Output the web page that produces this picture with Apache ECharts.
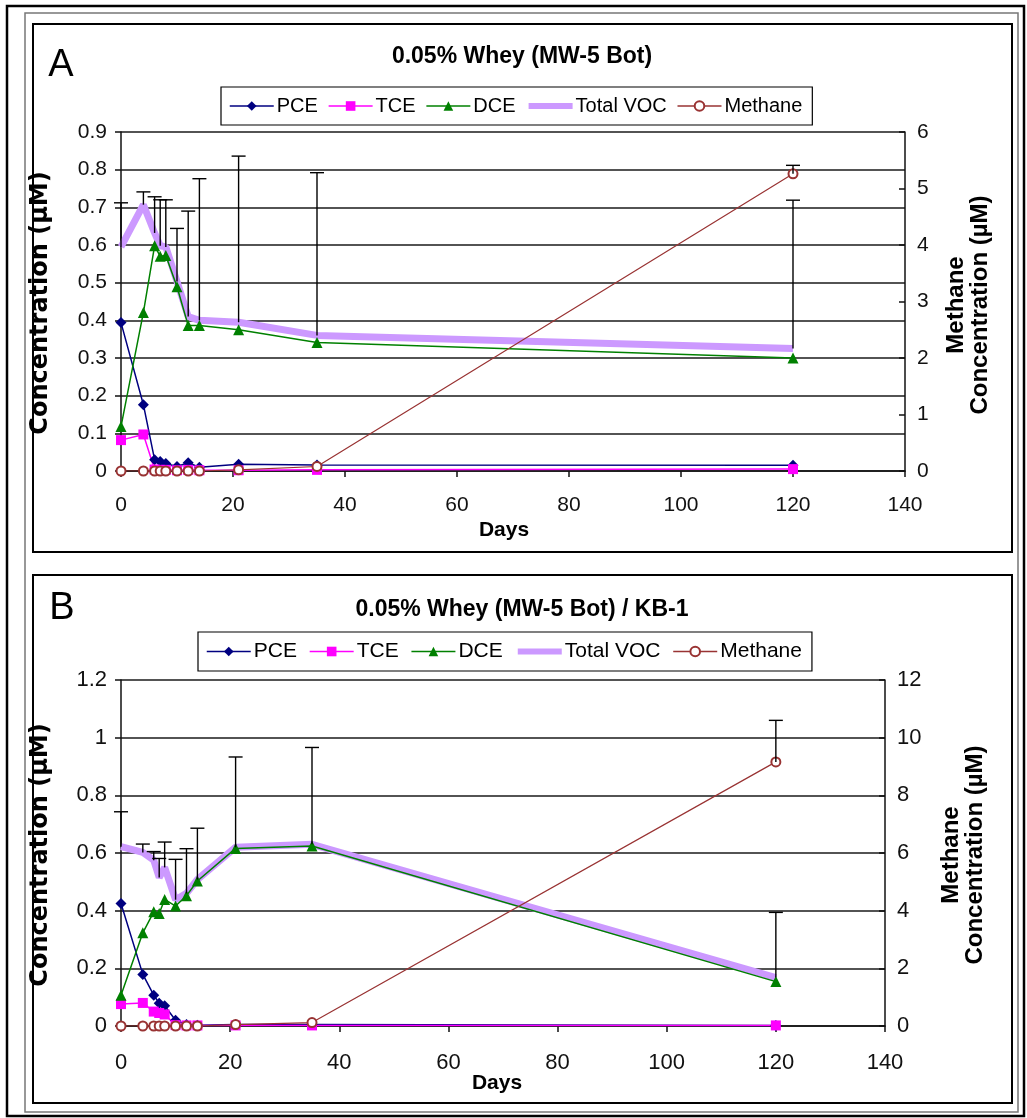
<!DOCTYPE html>
<html>
<head>
<meta charset="utf-8">
<script src="https://cdn.jsdelivr.net/npm/echarts@6/dist/echarts.min.js"></script>
<style>
html,body{margin:0;padding:0;background:#fff;}
#chart{width:1027px;height:1118px;}
</style>
</head>
<body>
<div id="chart"></div>
<script>
// ---- data ----
const days = [0, 4, 6, 7, 8, 10, 12, 14, 21, 35, 120];
const xTicks = [0, 20, 40, 60, 80, 100, 120, 140];

// Panel A: 0.05% Whey (MW-5 Bot)
const pceA = [0.394, 0.176, 0.030, 0.025, 0.020, 0.012, 0.022, 0.010, 0.018, 0.016, 0.015];
const tceA = [0.082, 0.097, 0.004, 0.003, 0.003, 0.002, 0.003, 0.002, 0.002, 0.003, 0.005];
const dceA = [0.118, 0.421, 0.598, 0.570, 0.572, 0.489, 0.386, 0.386, 0.375, 0.341, 0.300];
const vocA = [0.595, 0.707, 0.632, 0.598, 0.595, 0.503, 0.410, 0.400, 0.395, 0.360, 0.325];
const methA = [0, 0, 0, 0, 0, 0, 0, 0, 0.02, 0.08, 5.26];
const vocErrTopA = [0.712, 0.741, 0.728, 0.720, 0.720, 0.644, 0.690, 0.776, 0.836, 0.792, 0.719];
const methErrDayA = [120];
const methErrLowA = [5.26];
const methErrTopA = [5.41];

// Panel B: 0.05% Whey (MW-5 Bot) / KB-1
const pceB = [0.425, 0.179, 0.107, 0.079, 0.070, 0.020, 0.005, 0.003, 0.005, 0.005, 0.002];
const tceB = [0.076, 0.080, 0.050, 0.045, 0.040, 0.003, 0.002, 0.002, 0.002, 0.002, 0.002];
const dceB = [0.107, 0.323, 0.396, 0.390, 0.439, 0.416, 0.452, 0.503, 0.616, 0.624, 0.154];
const vocB = [0.622, 0.602, 0.575, 0.515, 0.550, 0.438, 0.460, 0.508, 0.620, 0.630, 0.168];
const methB = [0, 0, 0, 0, 0, 0, 0, 0, 0.05, 0.12, 9.16];
const vocErrTopB = [0.743, 0.631, 0.605, 0.581, 0.638, 0.578, 0.615, 0.686, 0.933, 0.966, 0.394];
const methErrDayB = [120];
const methErrLowB = [9.16];
const methErrTopB = [10.6];

const leftTicksA = [0, 0.1, 0.2, 0.3, 0.4, 0.5, 0.6, 0.7, 0.8, 0.9];
const rightTicksA = [0, 1, 2, 3, 4, 5, 6];
const leftTicksB = [0, 0.2, 0.4, 0.6, 0.8, 1, 1.2];
const rightTicksB = [0, 2, 4, 6, 8, 10, 12];

const names = ['PCE', 'TCE', 'DCE', 'Total VOC', 'Methane'];
const titleA = '0.05% Whey (MW-5 Bot)';
const titleB = '0.05% Whey (MW-5 Bot) / KB-1';

// ---- helpers ----
const FONT = '"Liberation Sans", Arial, sans-serif';
const VOC_COLOR = '#CC99FF';
const pairs = (arr) => days.map((d, i) => [d, arr[i]]);

function xAx(gridIndex, fs, margin) {
  return {
    type: 'value', gridIndex, min: xTicks[0], max: xTicks[xTicks.length - 1],
    interval: xTicks[1] - xTicks[0],
    axisLine: { show: true, onZero: false, lineStyle: { color: '#111', width: 1.5 } },
    axisTick: { show: true, length: 6, lineStyle: { color: '#111', width: 1.5 } },
    axisLabel: { color: '#111', fontSize: fs, fontFamily: FONT, margin },
    splitLine: { show: false }
  };
}
function yAx(gridIndex, ticks, pos, fs, split) {
  return {
    type: 'value', gridIndex, position: pos,
    min: ticks[0], max: ticks[ticks.length - 1], interval: ticks[1] - ticks[0],
    axisLine: { show: true, onZero: false, lineStyle: { color: '#111', width: 1.5 } },
    axisTick: { show: true, length: 6, inside: pos === 'right', lineStyle: { color: '#111', width: 1.5 } },
    axisLabel: { color: '#111', fontSize: fs, fontFamily: FONT, margin: pos === 'right' ? 12 : 14,
      formatter: (v) => String(+v.toFixed(2)) },
    splitLine: { show: split, lineStyle: { color: '#1a1a1a', width: 1.5 } }
  };
}
function errRender(params, api) {
  const x = api.value(0), lo = api.value(1), hi = api.value(2);
  const p1 = api.coord([x, lo]);
  const p2 = api.coord([x, hi]);
  const st = { stroke: '#000', lineWidth: 1.4 };
  return {
    type: 'group',
    children: [
      { type: 'line', shape: { x1: p1[0], y1: p1[1], x2: p2[0], y2: p2[1] }, style: st },
      { type: 'line', shape: { x1: p2[0] - 7, y1: p2[1], x2: p2[0] + 7, y2: p2[1] }, style: st }
    ]
  };
}
function panelSeries(xi, yl, yr, pce, tce, dce, voc, meth, errTop, mDay, mLow, mTop) {
  return [
    { name: 'Total VOC', type: 'line', xAxisIndex: xi, yAxisIndex: yl, data: pairs(voc),
      showSymbol: false, symbol: 'none', z: 2, lineStyle: { color: VOC_COLOR, width: 7 },
      itemStyle: { color: VOC_COLOR } },
    { name: 'PCE', type: 'line', xAxisIndex: xi, yAxisIndex: yl, data: pairs(pce),
      symbol: 'diamond', symbolSize: 11, z: 3, lineStyle: { color: '#000080', width: 1.5 },
      itemStyle: { color: '#000080' } },
    { name: 'TCE', type: 'line', xAxisIndex: xi, yAxisIndex: yl, data: pairs(tce),
      symbol: 'rect', symbolSize: 10, z: 3, lineStyle: { color: '#FF00FF', width: 1.5 },
      itemStyle: { color: '#FF00FF' } },
    { name: 'DCE', type: 'line', xAxisIndex: xi, yAxisIndex: yl, data: pairs(dce),
      symbol: 'triangle', symbolSize: 11, z: 3, lineStyle: { color: '#008000', width: 1.5 },
      itemStyle: { color: '#008000' } },
    { name: 'Methane', type: 'line', xAxisIndex: xi, yAxisIndex: yr, data: pairs(meth),
      symbol: 'emptyCircle', symbolSize: 9, z: 3, lineStyle: { color: '#993333', width: 1.2 },
      itemStyle: { color: '#993333', borderColor: '#993333', borderWidth: 1.2 } },
    { type: 'custom', xAxisIndex: xi, yAxisIndex: yl, z: 4, renderItem: errRender,
      encode: { x: 0, y: [1, 2] },
      data: days.map((d, i) => [d, voc[i], errTop[i]]) },
    { type: 'custom', xAxisIndex: xi, yAxisIndex: yr, z: 4, renderItem: errRender,
      encode: { x: 0, y: [1, 2] },
      data: mDay.map((d, i) => [d, mLow[i], mTop[i]]) }
  ];
}
function legendCfg(left, top, fs, gap) {
  return {
    data: names.map((n) => n === 'Total VOC'
      ? { name: n, itemStyle: { color: 'rgba(0,0,0,0)', borderWidth: 0, opacity: 0 },
          lineStyle: { color: VOC_COLOR, width: 6 } }
      : { name: n, lineStyle: { width: 1.5 } }),
    left, top, orient: 'horizontal',
    itemWidth: 44, itemHeight: 12, itemGap: gap,
    padding: [9, 10, 9, 8],
    borderColor: '#000', borderWidth: 1.2,
    textStyle: { fontSize: fs, fontFamily: FONT, color: '#000', padding: [0, 0, 0, -2] },
    selectedMode: false
  };
}
function frameRect(x, y, w, h, color, lw) {
  return { type: 'rect', shape: { x, y, width: w, height: h }, silent: true,
    style: { fill: 'none', stroke: color, lineWidth: lw }, z: 0 };
}
function txt(x, y, text, size, weight, rot, family) {
  return { type: 'text', x, y, rotation: rot || 0, silent: true, z: 10,
    style: { text, fontSize: size, fontWeight: weight, fontFamily: family || FONT,
      fill: '#000', align: 'center', verticalAlign: 'middle' } };
}

const chart = echarts.init(document.getElementById('chart'), null, { renderer: 'canvas' });
const option = {
  backgroundColor: '#fff',
  animation: false,
  grid: [
    { left: 121, right: 122, top: 132, bottom: 647 },
    { left: 121, right: 142, top: 680, bottom: 92 }
  ],
  xAxis: [xAx(0, 21, 24), xAx(1, 22, 26)],
  yAxis: [
    yAx(0, leftTicksA, 'left', 21, true),
    yAx(0, rightTicksA, 'right', 21, false),
    yAx(1, leftTicksB, 'left', 22, true),
    yAx(1, rightTicksB, 'right', 22, false)
  ],
  legend: [legendCfg(221, 87, 20, 10), legendCfg(198, 632, 21, 12)],
  series: [].concat(
    panelSeries(0, 0, 1, pceA, tceA, dceA, vocA, methA, vocErrTopA, methErrDayA, methErrLowA, methErrTopA),
    panelSeries(1, 2, 3, pceB, tceB, dceB, vocB, methB, vocErrTopB, methErrDayB, methErrLowB, methErrTopB)
  ),
  graphic: [
    frameRect(7, 6, 1017, 1110, '#000', 2.5),
    frameRect(25, 13, 993, 1099, '#777', 1.5),
    frameRect(33, 24, 979, 528, '#000', 2),
    frameRect(33, 575, 979, 528, '#000', 2),
    txt(61, 66, 'A', 38, 'normal'),
    txt(62, 609, 'B', 38, 'normal'),
    txt(522, 57, titleA, 23, 'bold'),
    txt(522, 610, titleB, 23, 'bold'),
    txt(504, 530, 'Days', 21, 'bold'),
    txt(497, 1083, 'Days', 21, 'bold'),
    txt(41, 303, 'Concentration (µM)', 24, 'bold', Math.PI / 2, '"DejaVu Sans", sans-serif'),
    txt(41, 855, 'Concentration (µM)', 24, 'bold', Math.PI / 2, '"DejaVu Sans", sans-serif'),
    txt(968, 305, 'Methane\nConcentration (µM)', 24, 'bold', Math.PI / 2),
    txt(963, 855, 'Methane\nConcentration (µM)', 24, 'bold', Math.PI / 2)
  ]
};
chart.setOption(option);
</script>
</body>
</html>
